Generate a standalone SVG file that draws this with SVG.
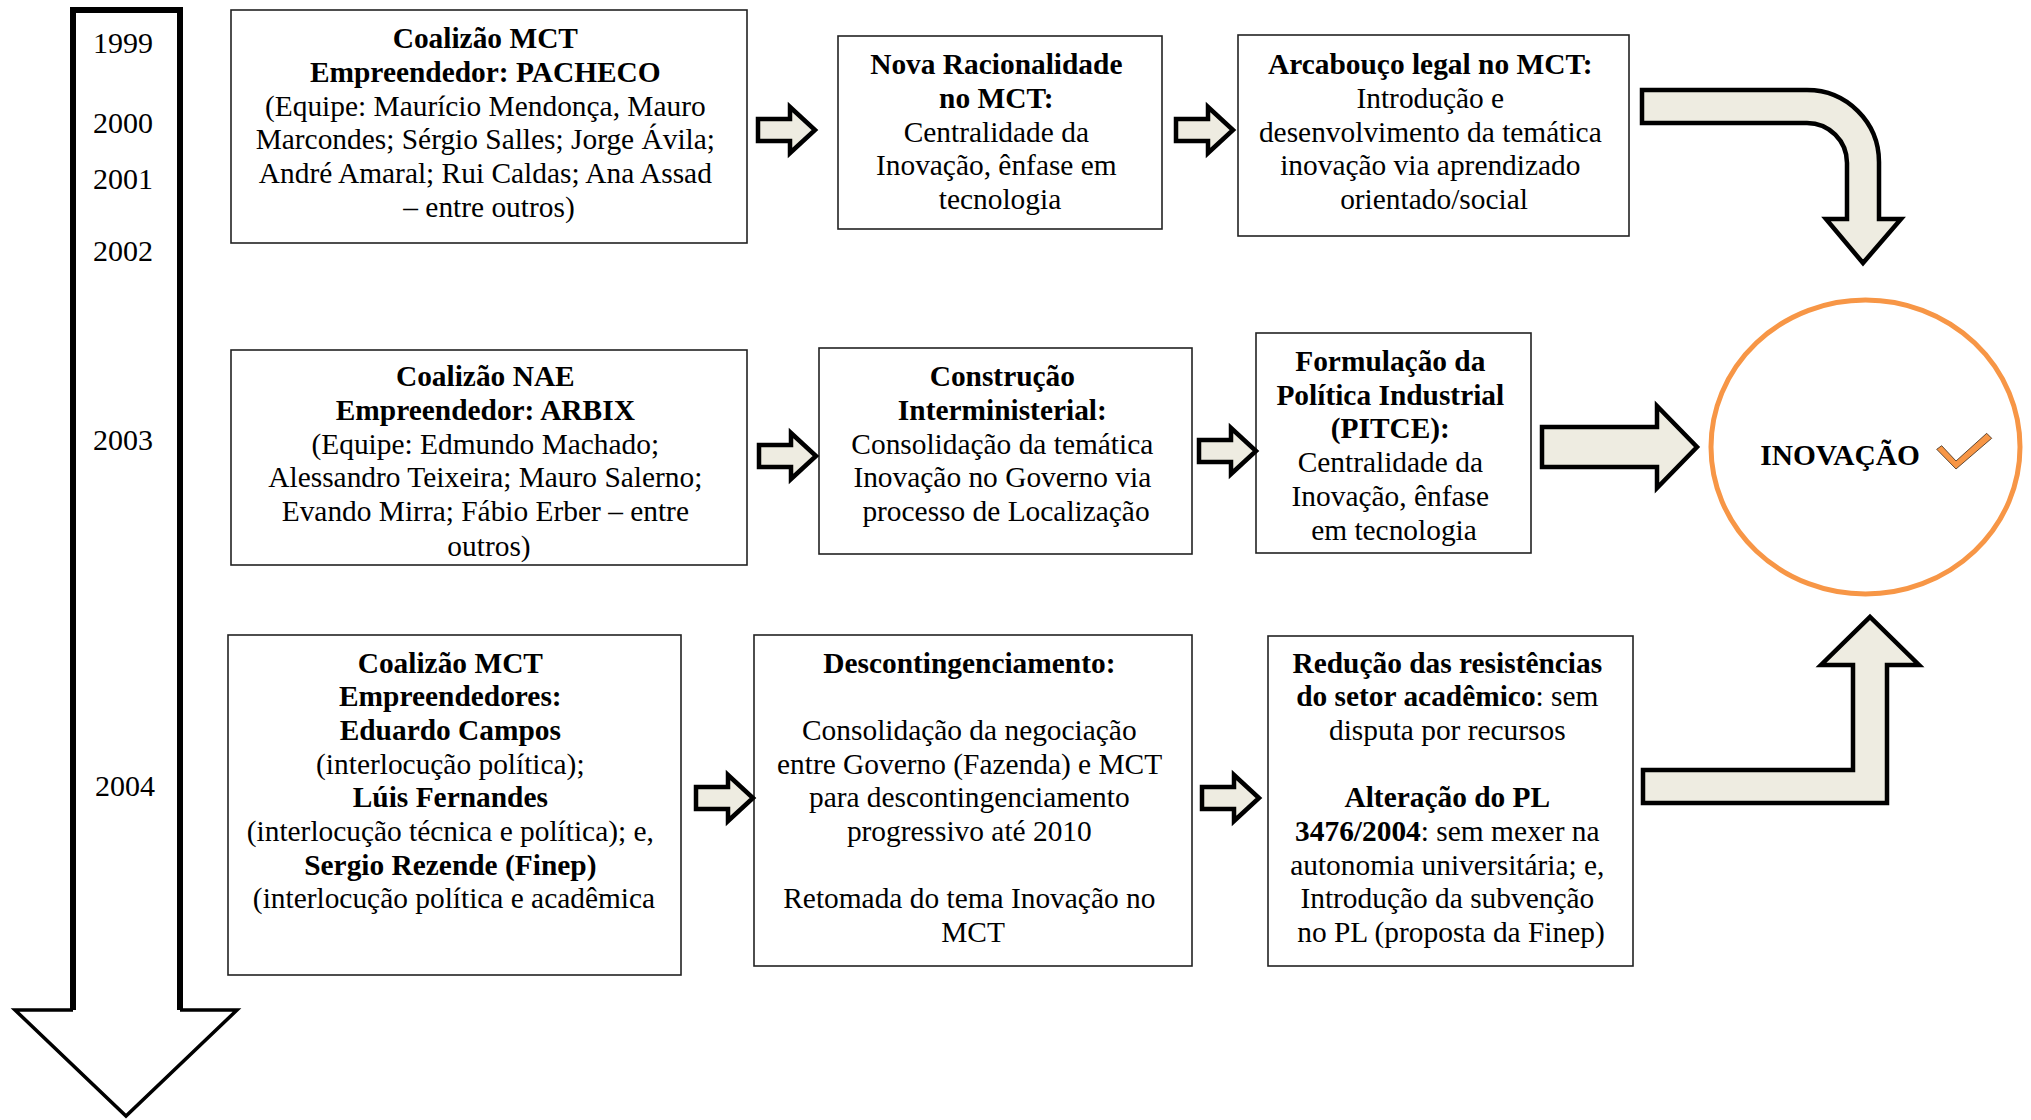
<svg xmlns="http://www.w3.org/2000/svg" width="2031" height="1120" viewBox="0 0 2031 1120">
  <style>
    .box { fill: #ffffff; stroke: #222222; stroke-width: 1.6; }
    .t { font-family: "Liberation Serif", "Times New Roman", serif; font-size: 29.4px; fill: #000000; text-anchor: middle; }
    .yr { font-family: "Liberation Serif", "Times New Roman", serif; font-size: 30px; fill: #000000; text-anchor: middle; }
    .b { font-weight: bold; }
    .blk { fill: #EEECE1; stroke: #000000; stroke-width: 4.5; stroke-linejoin: miter; }
  </style>
  <defs>
    <!-- small block arrow pointing right, origin at tail centre -->
    <path id="sArrow" d="M0,-11 H32 V-23 L57,0 L32,23 V11 H0 Z"/>
    <clipPath id="clipB1"><rect x="231" y="350" width="516" height="214"/></clipPath>
    <clipPath id="clipB3"><rect x="1256" y="333" width="275" height="219"/></clipPath>
  </defs>

  <rect width="2031" height="1120" fill="#ffffff"/>

  <!-- timeline arrow -->
  <g id="timeline">
    <path d="M73,10 H180 V1010 H237 L126,1116 L15,1010 H73 Z" fill="#ffffff"/>
    <path d="M73,1010 V10 H180 V1010" fill="none" stroke="#000" stroke-width="6"/>
    <path d="M73,1010 H15 L126,1116 L237,1010 H180" fill="none" stroke="#000" stroke-width="3.5" stroke-linejoin="miter"/>
    <text class="yr" x="123" y="53">1999</text>
    <text class="yr" x="123" y="133">2000</text>
    <text class="yr" x="123" y="189">2001</text>
    <text class="yr" x="123" y="261">2002</text>
    <text class="yr" x="123" y="450">2003</text>
    <text class="yr" x="125" y="796">2004</text>
  </g>

  <!-- row 1 -->
  <g id="coalizao-mct-pacheco">
    <rect class="box" x="231" y="10" width="516" height="233"/>
    <text class="t" x="489">
      <tspan class="b" x="489" y="48">Coalizão MCT</tspan>
      <tspan class="b" x="489" y="82">Empreendedor: PACHECO</tspan>
      <tspan x="489" y="116">(Equipe: Maurício Mendonça, Mauro</tspan>
      <tspan x="489" y="149">Marcondes; Sérgio Salles; Jorge Ávila;</tspan>
      <tspan x="489" y="183">André Amaral; Rui Caldas; Ana Assad</tspan>
      <tspan x="489" y="217">– entre outros)</tspan>
    </text>
  </g>

  <g id="nova-racionalidade">
    <rect class="box" x="838" y="36" width="324" height="193"/>
    <text class="t">
      <tspan class="b" x="1000" y="74">Nova Racionalidade</tspan>
      <tspan class="b" x="1000" y="108">no MCT:</tspan>
      <tspan x="1000" y="142">Centralidade da</tspan>
      <tspan x="1000" y="175">Inovação, ênfase em</tspan>
      <tspan x="1000" y="209">tecnologia</tspan>
    </text>
  </g>

  <g id="arcabouco-legal">
    <rect class="box" x="1238" y="35" width="391" height="201"/>
    <text class="t">
      <tspan class="b" x="1434" y="74">Arcabouço legal no MCT:</tspan>
      <tspan x="1434" y="108">Introdução e</tspan>
      <tspan x="1434" y="142">desenvolvimento da temática</tspan>
      <tspan x="1434" y="175">inovação via aprendizado</tspan>
      <tspan x="1434" y="209">orientado/social</tspan>
    </text>
  </g>

  <!-- row 2 -->
  <g id="coalizao-nae-arbix">
    <rect class="box" x="231" y="350" width="516" height="215"/>
    <text class="t" clip-path="url(#clipB1)">
      <tspan class="b" x="489" y="386">Coalizão NAE</tspan>
      <tspan class="b" x="489" y="420">Empreendedor: ARBIX</tspan>
      <tspan x="489" y="454">(Equipe: Edmundo Machado;</tspan>
      <tspan x="489" y="487">Alessandro Teixeira; Mauro Salerno;</tspan>
      <tspan x="489" y="521">Evando Mirra; Fábio Erber – entre</tspan>
      <tspan x="489" y="556">outros)</tspan>
    </text>
  </g>

  <g id="construcao-interministerial">
    <rect class="box" x="819" y="348" width="373" height="206"/>
    <text class="t">
      <tspan class="b" x="1006" y="386">Construção</tspan>
      <tspan class="b" x="1006" y="420">Interministerial:</tspan>
      <tspan x="1006" y="454">Consolidação da temática</tspan>
      <tspan x="1006" y="487">Inovação no Governo via</tspan>
      <tspan x="1006" y="521">processo de Localização</tspan>
    </text>
  </g>

  <g id="formulacao-pitce">
    <rect class="box" x="1256" y="333" width="275" height="220"/>
    <text class="t" clip-path="url(#clipB3)">
      <tspan class="b" x="1394" y="371">Formulação da</tspan>
      <tspan class="b" x="1394" y="405">Política Industrial</tspan>
      <tspan class="b" x="1394" y="438">(PITCE):</tspan>
      <tspan x="1394" y="472">Centralidade da</tspan>
      <tspan x="1394" y="506">Inovação, ênfase</tspan>
      <tspan x="1394" y="540">em tecnologia</tspan>
    </text>
  </g>

  <g id="inovacao">
    <ellipse cx="1865.5" cy="447" rx="154.5" ry="147" fill="#ffffff" stroke="#F79646" stroke-width="5"/>
    <text class="t b" x="1840" y="465">INOVAÇÃO</text>
    <polygon points="1936.7,449.3 1956,469 1991.7,438.3 1986.7,433.3 1956,461 1941.7,445.7" fill="#F79646" stroke="#3a2a1a" stroke-width="0.8"/>
  </g>

  <!-- row 3 -->
  <g id="coalizao-mct-2004">
    <rect class="box" x="228" y="635" width="453" height="340"/>
    <text class="t">
      <tspan class="b" x="454" y="673">Coalizão MCT</tspan>
      <tspan class="b" x="454" y="706">Empreendedores:</tspan>
      <tspan class="b" x="454" y="740">Eduardo Campos</tspan>
      <tspan x="454" y="774">(interlocução política);</tspan>
      <tspan class="b" x="454" y="807">Lúis Fernandes</tspan>
      <tspan x="454" y="841">(interlocução técnica e política); e,</tspan>
      <tspan class="b" x="454" y="875">Sergio Rezende (Finep)</tspan>
      <tspan x="454" y="908">(interlocução política e acadêmica</tspan>
    </text>
  </g>

  <g id="descontingenciamento">
    <rect class="box" x="754" y="635" width="438" height="331"/>
    <text class="t">
      <tspan class="b" x="973" y="673">Descontingenciamento:</tspan>
      <tspan x="973" y="740">Consolidação da negociação</tspan>
      <tspan x="973" y="774">entre Governo (Fazenda) e MCT</tspan>
      <tspan x="973" y="807">para descontingenciamento</tspan>
      <tspan x="973" y="841">progressivo até 2010</tspan>
      <tspan x="973" y="908">Retomada do tema Inovação no</tspan>
      <tspan x="973" y="942">MCT</tspan>
    </text>
  </g>

  <g id="reducao-resistencias">
    <rect class="box" x="1268" y="636" width="365" height="330"/>
    <text class="t">
      <tspan class="b" x="1451" y="673">Redução das resistências</tspan>
      <tspan x="1451" y="706"><tspan class="b">do setor acadêmico</tspan>: sem</tspan>
      <tspan x="1451" y="740">disputa por recursos</tspan>
      <tspan class="b" x="1451" y="807">Alteração do PL</tspan>
      <tspan x="1451" y="841"><tspan class="b">3476/2004</tspan>: sem mexer na</tspan>
      <tspan x="1451" y="875">autonomia universitária; e,</tspan>
      <tspan x="1451" y="908">Introdução da subvenção</tspan>
      <tspan x="1451" y="942">no PL (proposta da Finep)</tspan>
    </text>
  </g>

  <!-- connectors -->
  <g id="connectors">
    <use href="#sArrow" class="blk" x="758" y="130"/>
    <use href="#sArrow" class="blk" x="1176" y="130"/>
    <use href="#sArrow" class="blk" x="759" y="456"/>
    <use href="#sArrow" class="blk" x="1199" y="451"/>
    <use href="#sArrow" class="blk" x="696" y="798"/>
    <use href="#sArrow" class="blk" x="1202" y="798"/>
    <!-- large arrow into INOVAÇÃO -->
    <path class="blk" d="M1542,427 H1657 V406 L1697,447 L1657,488 V467 H1542 Z"/>
    <!-- bent arrow from row 1 down to INOVAÇÃO -->
    <path class="blk" d="M1642,90 H1807 A72,72 0 0 1 1879,162 V219 H1901 L1863,263 L1826,219 H1847 V163 A40,40 0 0 0 1807,123 H1642 Z"/>
    <!-- bent arrow from row 3 up to INOVAÇÃO -->
    <path class="blk" d="M1643,770 H1853 V665 H1821 L1870,617 L1919,665 H1887 V803 H1643 Z"/>
  </g>
</svg>
